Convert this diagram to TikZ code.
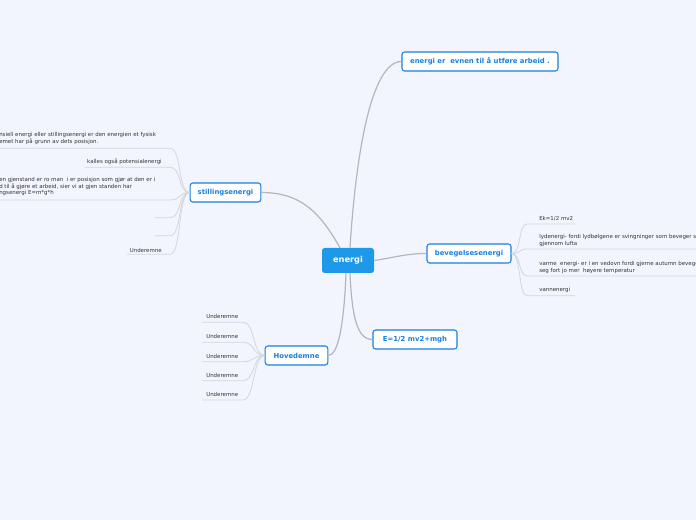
\documentclass[tikz,border=0pt]{standalone}
\usepackage{fontspec}
\setmainfont{DejaVu Sans}
\usepackage{xcolor}
\usetikzlibrary{positioning, calc}

\definecolor{bgblue}{HTML}{F2F5FE}
\definecolor{topicblue}{HTML}{1A7FE0}
\definecolor{rootblue}{HTML}{1E98E8}
\definecolor{mainline}{HTML}{B5B6BC}
\definecolor{subline}{HTML}{D4D6DE}
\definecolor{subtext}{HTML}{333333}

\begin{document}
\begin{tikzpicture}[x=0.75pt, y=-0.75pt,
  root/.style={fill=rootblue, rounded corners=2pt, text=white, font=\bfseries\fontsize{6.2}{7}\selectfont, minimum width=39pt, minimum height=18.75pt, inner sep=0pt},
  topic/.style={draw=topicblue, line width=0.8pt, fill=white, rounded corners=2pt, text=topicblue, font=\bfseries\fontsize{5.15}{6}\selectfont, minimum height=14.25pt, inner sep=0pt},
  sub/.style={font=\fontsize{4.1}{4.75}\selectfont, text=subtext, inner sep=0pt, align=left},
  link/.style={mainline, line width=0.9pt},
  sublink/.style={subline, line width=0.6pt}]

\useasboundingbox (0,0) rectangle (696,520);
\fill[bgblue] (0,0) rectangle (696,520);
\clip (0,0) rectangle (696,520);

% main topics
\node[root] (energi) at (348,260.5) {energi};
\node[topic, minimum width=117pt] (arbeid) at (480,61.5) {energi er\ \ evnen til å utføre arbeid .};
\node[topic, minimum width=63pt] (beveg) at (469,253.5) {bevegelsesenergi};
\node[topic, minimum width=63pt] (formel) at (415,339.5) {E=1/2 mv2+mgh};
\node[topic, minimum width=47pt] (hoved) at (296.5,355.5) {Hovedemne};
\node[topic, minimum width=53pt] (still) at (225.5,192.5) {stillingsenergi};

\draw[link] ($(energi.north)+(2,0)$) .. controls +(6,-95) and +(-30,0) .. (arbeid.west);
\draw[link] (energi.east) .. controls +(20,-3) and +(-20,0) .. (beveg.west);
\draw[link] ($(energi.south)+(2,0)$) .. controls +(2,45) and +(-15,0) .. (formel.west);
\draw[link] ($(energi.south)+(-2,0)$) .. controls +(-2,50) and +(10,0) .. (hoved.east);
\draw[link] ($(energi.north)+(-8,0)$) .. controls +(-20,-35) and +(40,0) .. (still.east);

% stillingsenergi
\node[sub, anchor=north west] (s1) at (-1,132.5) {nsiell energi eller stillingsenergi er den energien et fysisk\\emet har på grunn av dets posisjon.};
\node[sub, anchor=south east] (s2) at (162,164.5) {kalles også potensialenergi};
\node[sub, anchor=north west] (s3) at (-1,177.5) {en gjenstand er ro man\ \ i er posisjon som gjør at den er i\\d til å gjøre et arbeid, sier vi at gjen standen har\\ngsenergi E=m*g*h};
\node[sub, anchor=south east] (s6) at (162,252.5) {Underemne};
\foreach \i/\y/\x in {1/148.3/0, 2/167.3/85, 3/200/0, 4/217.7/155, 5/235.7/155, 6/254.3/127} {
  \coordinate (s\i e) at (170,\y);
  \coordinate (s\i s) at (\x,\y);
  \draw[sublink] (still.west) .. controls +(-12,0) and +(12,0) .. (s\i e) -- (s\i s);
}

% bevegelsesenergi
\node[sub, anchor=south west] (b1) at (539,221.5) {Ek=1/2 mv2};
\node[sub, anchor=south west] (b2) at (539,246.5) {lydenergi- fordi lydbølgene er svingninger som beveger seg\\gjennom lufta};
\node[sub, anchor=south west] (b3) at (539,273.5) {varme\ \ energi- er i en vedovn fordi gjerne autumn beveger\\seg fort jo mer\ \ høyere temperatur};
\node[sub, anchor=south west] (b4) at (539,293) {vannenergi};
\foreach \i/\y/\x in {1/224/575, 2/249/700, 3/276/700, 4/295.7/575} {
  \coordinate (b\i s) at (527,\y);
  \coordinate (b\i e) at (\x,\y);
  \draw[sublink] (beveg.east) .. controls +(10,0) and +(-9,0) .. (b\i s) -- (b\i e);
}

% Hovedemne
\foreach \i/\y in {1/322.3, 2/342.3, 3/361.7, 4/380.7, 5/400} {
  \coordinate (h\i e) at (243,\y);
  \coordinate (h\i s) at (202,\y);
  \node[sub, anchor=south west] (h\i) at (206,\y-3) {Underemne};
  \draw[sublink] (hoved.west) .. controls +(-12,0) and +(12,0) .. (h\i e) -- (h\i s);
}
\end{tikzpicture}
\end{document}
